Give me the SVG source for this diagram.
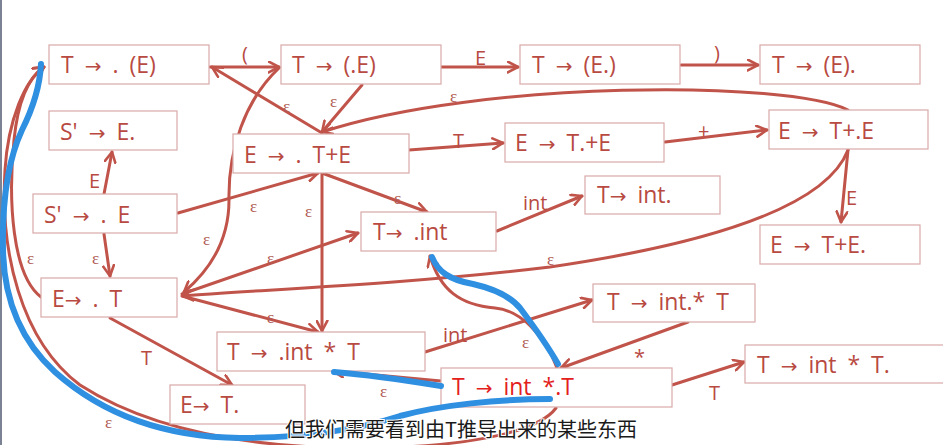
<svg xmlns="http://www.w3.org/2000/svg" width="943" height="445" viewBox="0 0 943 445">
<defs>
<marker id="ah" viewBox="0 0 12 12" refX="10.5" refY="6" markerWidth="13" markerHeight="13" markerUnits="userSpaceOnUse" orient="auto">
<path d="M1,1 L10.5,6 L1,11" fill="none" stroke="#c1544a" stroke-width="2.4" stroke-linecap="round" stroke-linejoin="round"/>
</marker>
</defs>
<style>
.box{fill:#fff;stroke:#d8aaa8;stroke-width:1.2}
.nt{font-family:"Open Sans","Liberation Sans",sans-serif;font-size:23px;fill:#b84a42;word-spacing:5px}
.ar{font-family:"DejaVu Sans",sans-serif;font-size:20px}
.red{fill:#e3201c}
.ea{fill:none;stroke:#c1544a;stroke-width:3;stroke-linecap:round;marker-end:url(#ah)}
.lb{font-family:"Open Sans","Liberation Sans",sans-serif;font-size:20px;fill:#b84a42}
.eps{font-family:"Liberation Serif",serif;font-size:17px;fill:#b05a52}
.blue{fill:none;stroke:#2f8fe0;stroke-width:6;stroke-linecap:round;stroke-linejoin:round}
.sub{font-family:"Noto Sans CJK SC",sans-serif;font-size:20px;fill:#1a1a1a;stroke:#fff;stroke-width:2;paint-order:stroke}
</style>
<rect x="0" y="0" width="943" height="445" fill="#fff"/>
<rect x="0" y="0" width="2" height="445" fill="#7a8294"/>

<g id="connectors">
<path class="ea" d="M210,67 L279,67"/>
<path class="ea" d="M322,133 L212,67"/>
<path class="ea" d="M362,85 L322,132"/>
<path class="ea" d="M279,68 C 245,100 228,150 229,200 C 229,240 210,270 184,292"/>
<path class="ea" d="M441,67 L518,67"/>
<path class="ea" d="M681,65 L758,65"/>
<path class="ea" d="M848,110 C 790,80 480,80 322,132"/>
<path class="ea" d="M409,150 L503,143"/>
<path class="ea" d="M665,142 L767,130"/>
<path class="ea" d="M848,150 L841,222"/>
<path class="ea" d="M848,150 C 825,210 700,245 550,267 C 400,285 250,290 183,296"/>
<path class="ea" d="M104,194 L112,152"/>
<path class="ea" d="M104,234 L110,276"/>
<path class="ea" d="M178,213 L318,173"/>
<path class="ea" d="M322,173 L427,212"/>
<path class="ea" d="M322,173 L322,331"/>
<path class="ea" d="M182,294 L358,233"/>
<path class="ea" d="M182,296 L318,332"/>
<path class="ea" d="M110,318 L232,385"/>
<path class="ea" d="M41,297 C 12,275 8,200 14,140 C 18,100 28,78 44,67"/>
<path class="ea" d="M556,408 C 540,430 480,445 380,448 C 250,450 150,430 80,385 C 20,340 0,250 5,170 C 8,120 25,80 44,67"/>
<path class="ea" d="M441,381 L333,371"/>
<path class="ea" d="M557,368 C 545,335 520,310 495,308 C 460,305 440,290 430,256"/>
<path class="ea" d="M497,231 L582,196"/>
<path class="ea" d="M425,352 L592,300"/>
<path class="ea" d="M688,322 L561,368"/>
<path class="ea" d="M672,385 L744,362"/>
<text class="lb" x="242" y="61">(</text>
<text class="eps" x="283" y="112">ε</text>
<text class="eps" x="330" y="107">ε</text>
<text class="eps" x="203" y="245">ε</text>
<text class="lb" x="475" y="65">E</text>
<text class="lb" x="714" y="60">)</text>
<text class="eps" x="450" y="102">ε</text>
<text class="lb" x="453" y="148">T</text>
<text class="lb" x="698" y="138">+</text>
<text class="lb" x="846" y="205">E</text>
<text class="eps" x="547" y="265">ε</text>
<text class="lb" x="89" y="188">E</text>
<text class="eps" x="92" y="264">ε</text>
<text class="eps" x="250" y="212">ε</text>
<text class="eps" x="394" y="204">ε</text>
<text class="eps" x="305" y="217">ε</text>
<text class="eps" x="267" y="264">ε</text>
<text class="eps" x="267" y="323">ε</text>
<text class="lb" x="141" y="365">T</text>
<text class="eps" x="27" y="264">ε</text>
<text class="eps" x="105" y="428">ε</text>
<text class="eps" x="380" y="397">ε</text>
<text class="eps" x="522" y="348">ε</text>
<text class="lb" x="523" y="210">int</text>
<text class="lb" x="443" y="342">int</text>
<text class="lb" x="634" y="364">*</text>
<text class="lb" x="709" y="400">T</text>
</g>

<g id="n1"><rect class="box" x="49" y="45" width="160" height="39"/><text class="nt" x="61" y="73">T <tspan class="ar">→</tspan> . (E)</text></g>
<g id="n2"><rect class="box" x="281" y="45" width="160" height="39"/><text class="nt" x="292" y="73">T <tspan class="ar">→</tspan> (.E)</text></g>
<g id="n3"><rect class="box" x="520" y="45" width="160" height="39"/><text class="nt" x="532" y="73">T <tspan class="ar">→</tspan> (E.)</text></g>
<g id="n4"><rect class="box" x="760" y="45" width="160" height="39"/><text class="nt" x="772" y="73">T <tspan class="ar">→</tspan> (E).</text></g>
<g id="n5"><rect class="box" x="49" y="111" width="128" height="39"/><text class="nt" x="60" y="140">S' <tspan class="ar">→</tspan> E.</text></g>
<g id="n6"><rect class="box" x="233" y="134" width="176" height="39"/><text class="nt" x="244" y="163">E <tspan class="ar">→</tspan> . T+E</text></g>
<g id="n7"><rect class="box" x="505" y="123" width="159" height="39"/><text class="nt" x="515" y="151">E <tspan class="ar">→</tspan> T.+E</text></g>
<g id="n8"><rect class="box" x="769" y="110" width="159" height="39"/><text class="nt" x="778" y="139">E <tspan class="ar">→</tspan> T+.E</text></g>
<g id="n9"><rect class="box" x="33" y="194" width="144" height="39"/><text class="nt" x="44" y="223">S' <tspan class="ar">→</tspan> . E</text></g>
<g id="n10"><rect class="box" x="585" y="176" width="135" height="38"/><text class="nt" x="597" y="203">T<tspan class="ar">→</tspan> int.</text></g>
<g id="n11"><rect class="box" x="361" y="212" width="135" height="39"/><text class="nt" x="373" y="240">T<tspan class="ar">→</tspan> .int</text></g>
<g id="n12"><rect class="box" x="760" y="225" width="160" height="39"/><text class="nt" x="770" y="253">E <tspan class="ar">→</tspan> T+E.</text></g>
<g id="n13"><rect class="box" x="41" y="278" width="136" height="39"/><text class="nt" x="52" y="307">E<tspan class="ar">→</tspan> . T</text></g>
<g id="n14"><rect class="box" x="593" y="284" width="162" height="38"/><text class="nt" x="607" y="310">T <tspan class="ar">→</tspan> int.* T</text></g>
<g id="n15"><rect class="box" x="217" y="332" width="208" height="39"/><text class="nt" x="227" y="360">T <tspan class="ar">→</tspan> .int * T</text></g>
<g id="n16"><rect class="box" x="170" y="385" width="135" height="39"/><text class="nt" x="180" y="413">E<tspan class="ar">→</tspan> T.</text></g>
<g id="n17"><rect class="box" x="441" y="368" width="231" height="39"/><text class="nt red" x="452" y="395">T <tspan class="ar">→</tspan> int *.T</text></g>
<g id="n18"><rect class="box" x="745" y="345" width="205" height="38"/><text class="nt" x="757" y="373">T <tspan class="ar">→</tspan> int * T.</text></g>

<g id="annotations">
<path class="blue" d="M41,64 C 40,85 32,110 22,130 C 8,160 2,200 3,250 C 4,300 20,340 55,372 C 100,412 160,437 240,438 C 300,438 350,432 400,416 C 440,405 500,399 550,399"/>
<path class="blue" d="M441,386 C 410,381 370,375 334,372"/>
<path class="blue" d="M432,257 C 438,272 450,280 473,284 C 495,289 510,296 520,308 C 535,328 550,350 558,364"/>
<text class="sub" x="285" y="437">但我们需要看到由T推导出来的某些东西</text>
</g>
</svg>
